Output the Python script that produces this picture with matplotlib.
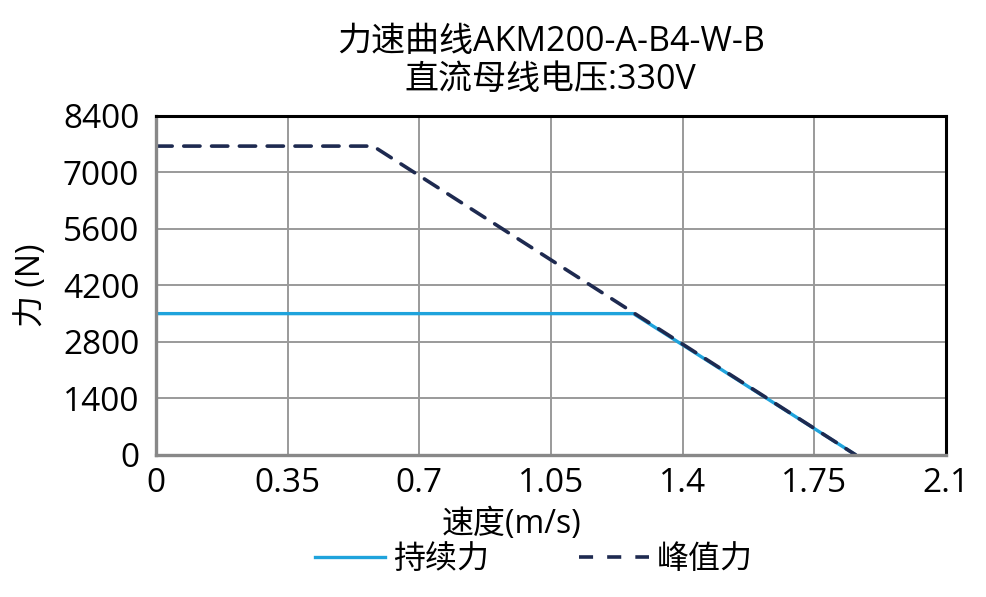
import matplotlib
matplotlib.use('Agg')
from matplotlib import pyplot as plt
from matplotlib.lines import Line2D

plt.rcParams['font.family'] = ['Open Sans', 'Noto Sans CJK SC', 'DejaVu Sans']

# speed (m/s) and force (N) points of each curve
cont_speed = [0, 1.269, 1.86]
cont_force = [3500, 3500, 0]
peak_speed = [0, 0.577, 1.86]
peak_force = [7650, 7650, 0]

x_ticks = [0, 0.35, 0.7, 1.05, 1.4, 1.75, 2.1]
x_labels = ['0', '0.35', '0.7', '1.05', '1.4', '1.75', '2.1']
y_ticks = [0, 1400, 2800, 4200, 5600, 7000, 8400]

cont_color = '#1fa3dc'
peak_color = '#1e2a50'
fs = 23

fig = plt.figure(figsize=(9.87, 5.97), dpi=100)
ax = fig.add_axes([0.158, 0.238, 0.8005, 0.568])

ax.plot(cont_speed, cont_force, color=cont_color, lw=2.4, solid_capstyle='butt')
ax.plot(peak_speed, peak_force, color=peak_color, lw=2.6,
        dashes=(4.5, 3.2), dash_capstyle='round')

ax.set_xlim(0, 2.1)
ax.set_ylim(0, 8400)
ax.set_xticks(x_ticks)
ax.set_xticklabels(x_labels)
ax.set_yticks(y_ticks)
ax.tick_params(length=0, labelsize=24)
ax.tick_params(axis='x', pad=9)
ax.tick_params(axis='y', pad=12)
ax.grid(True, color='#9a9a9a', lw=1.4)
ax.set_axisbelow(True)

for side in ['top', 'right']:
    ax.spines[side].set_color('black')
    ax.spines[side].set_linewidth(2.2)
for side in ['left', 'bottom']:
    ax.spines[side].set_color('#888888')
    ax.spines[side].set_linewidth(2.4)

ax.set_xlabel('速度(m/s)', fontsize=fs)
ax.xaxis.set_label_coords(0.45, -0.158)
ax.set_ylabel('力 (N)', fontsize=fs)
ax.yaxis.set_label_coords(-0.137, 0.5)

fig.text(0.558, 0.930, '力速曲线AKM200-A-B4-W-B', ha='center', va='center', fontsize=24.5)
fig.text(0.558, 0.866, '直流母线电压:330V', ha='center', va='center', fontsize=24.5)

handles = [Line2D([], [], color=cont_color, lw=2.4),
           Line2D([], [], color=peak_color, lw=2.6, dashes=(3.9, 3.9))]
fig.legend(handles, ['持续力', '峰值力'], loc='center', bbox_to_anchor=(0.541, 0.062),
           ncol=2, frameon=False, fontsize=fs, handlelength=2.2,
           handletextpad=0.25, columnspacing=2.8)

fig.savefig('out.png', dpi=100)
